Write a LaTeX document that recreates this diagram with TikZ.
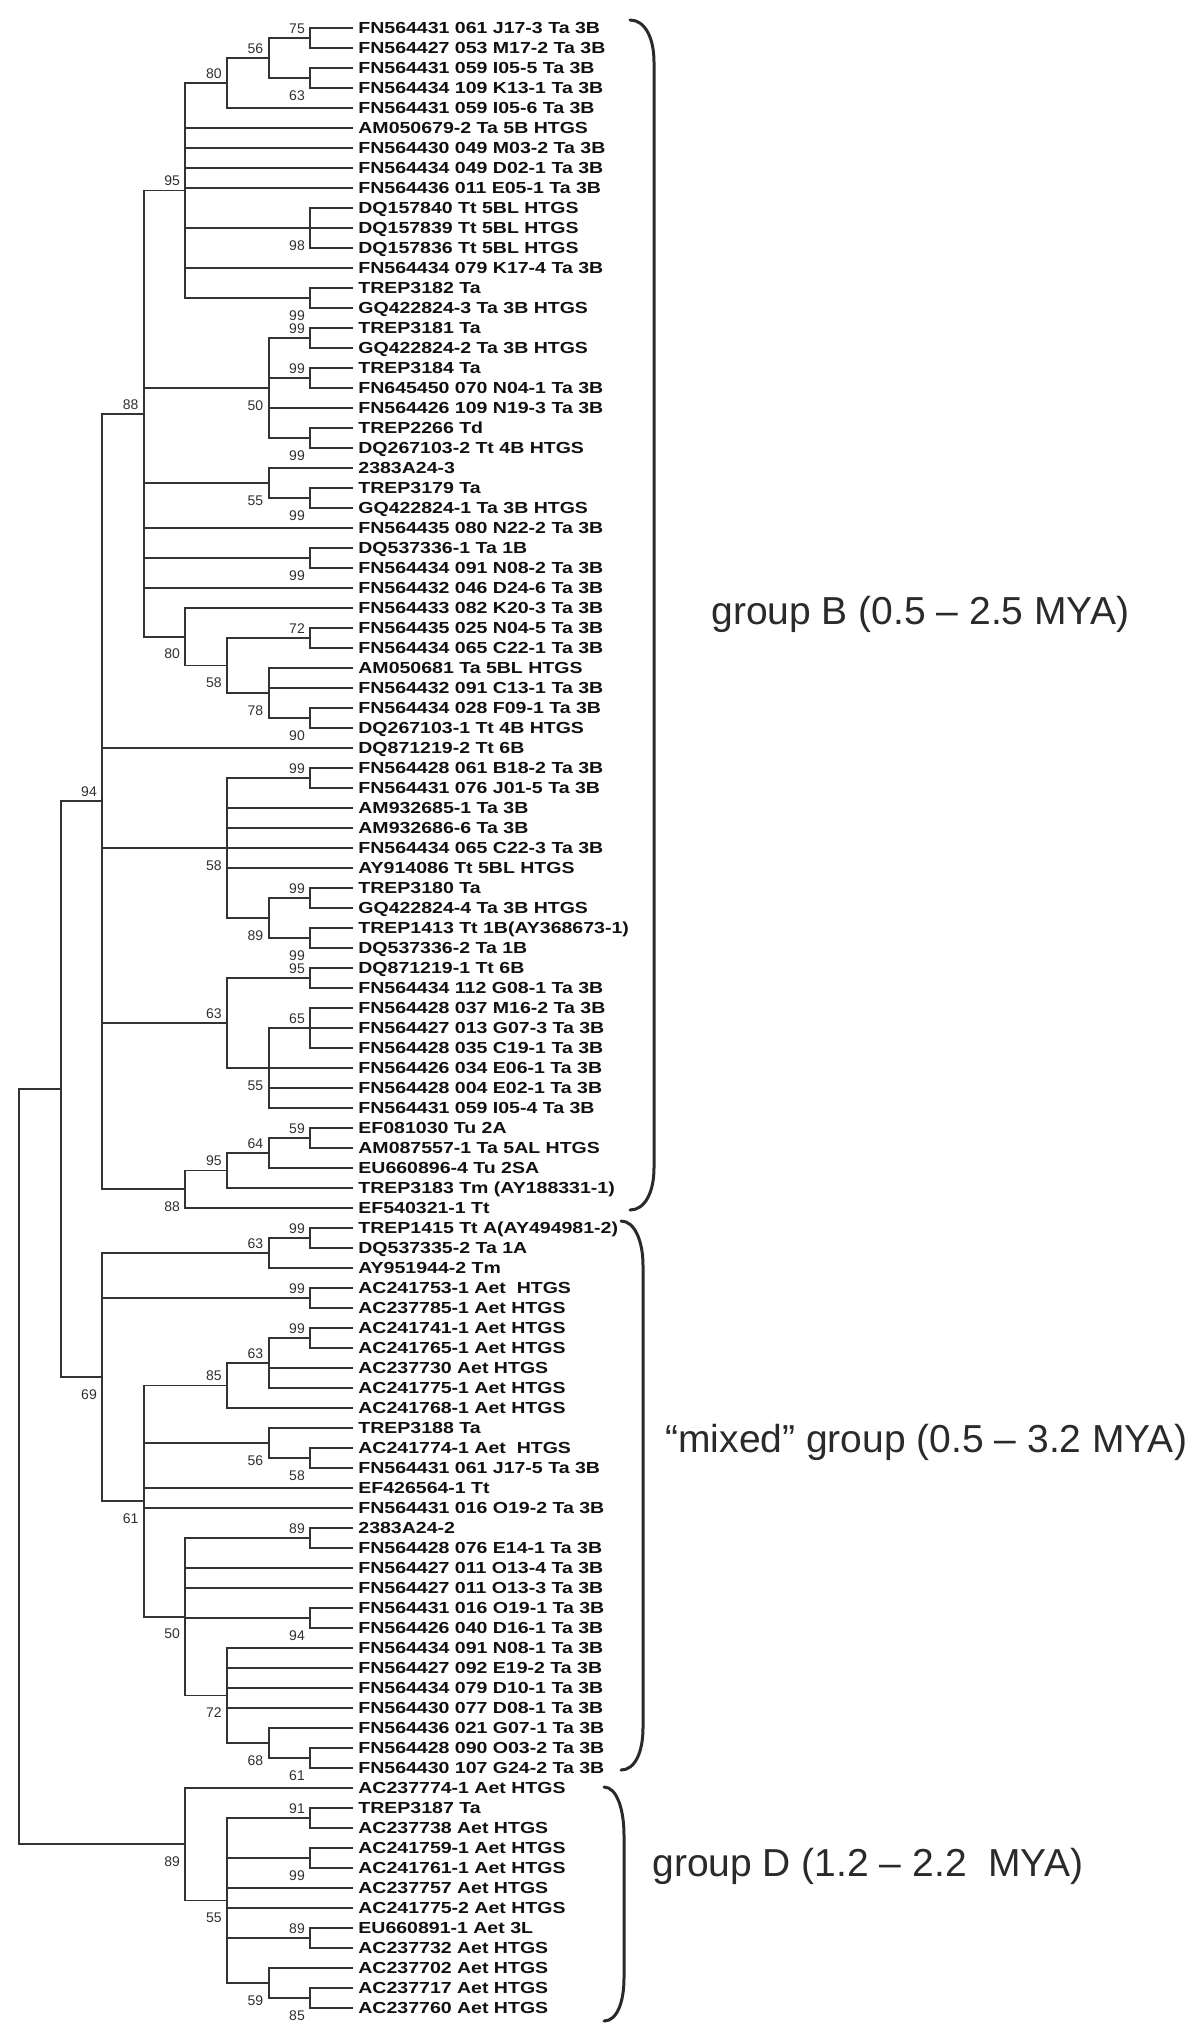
\documentclass[tikz,border=0pt]{standalone}
\usepackage{fontspec}
\setmainfont{Liberation Sans}
\newfontfamily\leaffont[FakeStretch=1.22]{Liberation Sans}
\definecolor{treeline}{HTML}{333333}
\definecolor{bstext}{HTML}{303030}
\definecolor{leaftext}{HTML}{111111}
\definecolor{grptext}{HTML}{2A2A2A}
\newcommand\treekids[2]{\foreach \c in {#2} {\draw[br] (#1) |- (\c);}}
\begin{document}
\begin{tikzpicture}[x=0.5pt,y=-0.5pt,
  br/.style={draw=treeline, line width=0.95pt, line cap=rect},
  leaf/.style={inner sep=0pt, anchor=base west, text=leaftext, font=\leaffont\bfseries\fontsize{8}{9}\selectfont},
  bsbase/.style={inner sep=0pt, text=bstext, font=\fontsize{7}{8}\selectfont},
  bsA/.style={bsbase, anchor=south east, xshift=-2.5pt, yshift=2pt},
  bsB/.style={bsbase, anchor=north east, xshift=-2.5pt, yshift=-6pt},
  grp/.style={inner sep=0pt, anchor=base west, text=grptext, font=\fontsize{19.5}{23}\selectfont},
  brk/.style={draw=grptext, line width=1.5pt, line cap=round}]
\fill[white] (0,0) rectangle (1200,2026);
\useasboundingbox (0,0) rectangle (1200,2026);

% leaves
\foreach \i/\t in {1/FN564431 061 J17-3 Ta 3B, 2/FN564427 053 M17-2 Ta 3B, 3/FN564431 059 I05-5 Ta 3B,
 4/FN564434 109 K13-1 Ta 3B, 5/FN564431 059 I05-6 Ta 3B, 6/AM050679-2 Ta 5B HTGS,
 7/FN564430 049 M03-2 Ta 3B, 8/FN564434 049 D02-1 Ta 3B, 9/FN564436 011 E05-1 Ta 3B,
 10/DQ157840 Tt 5BL HTGS, 11/DQ157839 Tt 5BL HTGS, 12/DQ157836 Tt 5BL HTGS,
 13/FN564434 079 K17-4 Ta 3B, 14/TREP3182 Ta, 15/GQ422824-3 Ta 3B HTGS,
 16/TREP3181 Ta, 17/GQ422824-2 Ta 3B HTGS, 18/TREP3184 Ta,
 19/FN645450 070 N04-1 Ta 3B, 20/FN564426 109 N19-3 Ta 3B, 21/TREP2266 Td,
 22/DQ267103-2 Tt 4B HTGS, 23/2383A24-3, 24/TREP3179 Ta,
 25/GQ422824-1 Ta 3B HTGS, 26/FN564435 080 N22-2 Ta 3B, 27/DQ537336-1 Ta 1B,
 28/FN564434 091 N08-2 Ta 3B, 29/FN564432 046 D24-6 Ta 3B, 30/FN564433 082 K20-3 Ta 3B,
 31/FN564435 025 N04-5 Ta 3B, 32/FN564434 065 C22-1 Ta 3B, 33/AM050681 Ta 5BL HTGS,
 34/FN564432 091 C13-1 Ta 3B, 35/FN564434 028 F09-1 Ta 3B, 36/DQ267103-1 Tt 4B HTGS,
 37/DQ871219-2 Tt 6B, 38/FN564428 061 B18-2 Ta 3B, 39/FN564431 076 J01-5 Ta 3B,
 40/AM932685-1 Ta 3B, 41/AM932686-6 Ta 3B, 42/FN564434 065 C22-3 Ta 3B,
 43/AY914086 Tt 5BL HTGS, 44/TREP3180 Ta, 45/GQ422824-4 Ta 3B HTGS,
 46/TREP1413 Tt 1B(AY368673-1), 47/DQ537336-2 Ta 1B, 48/DQ871219-1 Tt 6B,
 49/FN564434 112 G08-1 Ta 3B, 50/FN564428 037 M16-2 Ta 3B, 51/FN564427 013 G07-3 Ta 3B,
 52/FN564428 035 C19-1 Ta 3B, 53/FN564426 034 E06-1 Ta 3B, 54/FN564428 004 E02-1 Ta 3B,
 55/FN564431 059 I05-4 Ta 3B, 56/EF081030 Tu 2A, 57/AM087557-1 Ta 5AL HTGS,
 58/EU660896-4 Tu 2SA, 59/TREP3183 Tm (AY188331-1), 60/EF540321-1 Tt,
 61/TREP1415 Tt A(AY494981-2), 62/DQ537335-2 Ta 1A, 63/AY951944-2 Tm,
 64/AC241753-1 Aet\ \ HTGS, 65/AC237785-1 Aet HTGS, 66/AC241741-1 Aet HTGS,
 67/AC241765-1 Aet HTGS, 68/AC237730 Aet HTGS, 69/AC241775-1 Aet HTGS,
 70/AC241768-1 Aet HTGS, 71/TREP3188 Ta, 72/AC241774-1 Aet\ \ HTGS,
 73/FN564431 061 J17-5 Ta 3B, 74/EF426564-1 Tt, 75/FN564431 016 O19-2 Ta 3B,
 76/2383A24-2, 77/FN564428 076 E14-1 Ta 3B, 78/FN564427 011 O13-4 Ta 3B,
 79/FN564427 011 O13-3 Ta 3B, 80/FN564431 016 O19-1 Ta 3B, 81/FN564426 040 D16-1 Ta 3B,
 82/FN564434 091 N08-1 Ta 3B, 83/FN564427 092 E19-2 Ta 3B, 84/FN564434 079 D10-1 Ta 3B,
 85/FN564430 077 D08-1 Ta 3B, 86/FN564436 021 G07-1 Ta 3B, 87/FN564428 090 O03-2 Ta 3B,
 88/FN564430 107 G24-2 Ta 3B, 89/AC237774-1 Aet HTGS, 90/TREP3187 Ta,
 91/AC237738 Aet HTGS, 92/AC241759-1 Aet HTGS, 93/AC241761-1 Aet HTGS,
 94/AC237757 Aet HTGS, 95/AC241775-2 Aet HTGS, 96/EU660891-1 Aet 3L,
 97/AC237732 Aet HTGS, 98/AC237702 Aet HTGS, 99/AC237717 Aet HTGS,
 100/AC237760 Aet HTGS}
{
 \coordinate (t\i) at (351.8,{28+20*(\i-1)});
 \node[leaf] (l\i) at (358,{33.8+20*(\i-1)}) {\t};
}

% internal nodes (level x: 19, 60.6, 102.2, 143.8, 185.4, 227, 268.6, 310.2)
\coordinate (n75) at (310.2,38);
\coordinate (n63a) at (310.2,78);
\coordinate (n56a) at (268.6,58);
\coordinate (n80a) at (227,83);
\coordinate (n98) at (310.2,228);
\coordinate (n99a) at (310.2,298);
\coordinate (n95a) at (185.4,190.5);
\coordinate (n99b) at (310.2,338);
\coordinate (n99c) at (310.2,378);
\coordinate (n99d) at (310.2,438);
\coordinate (n50a) at (268.6,388);
\coordinate (n99e) at (310.2,498);
\coordinate (n55a) at (268.6,483);
\coordinate (n99f) at (310.2,558);
\coordinate (n72a) at (310.2,638);
\coordinate (n90) at (310.2,718);
\coordinate (n78) at (268.6,693);
\coordinate (n58a) at (227,665.5);
\coordinate (n80b) at (185.4,636.75);
\coordinate (n88a) at (143.8,413.6);
\coordinate (n99g) at (310.2,778);
\coordinate (n99h) at (310.2,898);
\coordinate (n99i) at (310.2,938);
\coordinate (n89a) at (268.6,918);
\coordinate (n58b) at (227,848);
\coordinate (n95b) at (310.2,978);
\coordinate (n65) at (310.2,1028);
\coordinate (n55b) at (268.6,1068);
\coordinate (n63b) at (227,1023);
\coordinate (n59a) at (310.2,1138);
\coordinate (n64) at (268.6,1153);
\coordinate (n95c) at (227,1170.5);
\coordinate (n88b) at (185.4,1189.25);
\coordinate (n94) at (102.2,801.4);
\coordinate (n99j) at (310.2,1238);
\coordinate (n63c) at (268.6,1253);
\coordinate (n99k) at (310.2,1298);
\coordinate (n99l) at (310.2,1338);
\coordinate (n63d) at (268.6,1363);
\coordinate (n85a) at (227,1385.5);
\coordinate (n58c) at (310.2,1458);
\coordinate (n56b) at (268.6,1443);
\coordinate (n89b) at (310.2,1538);
\coordinate (n94b) at (310.2,1618);
\coordinate (n61a) at (310.2,1758);
\coordinate (n68) at (268.6,1743);
\coordinate (n72b) at (227,1695.5);
\coordinate (n50b) at (185.4,1616.75);
\coordinate (n61b) at (143.8,1501.1);
\coordinate (n69) at (102.2,1377.05);
\coordinate (n91) at (310.2,1818);
\coordinate (n99m) at (310.2,1858);
\coordinate (n89d) at (310.2,1938);
\coordinate (n85b) at (310.2,1998);
\coordinate (n59b) at (268.6,1983);
\coordinate (n55c) at (227,1900.5);
\coordinate (n89c) at (185.4,1844.25);
\coordinate (nA) at (60.6,1089.2);
\coordinate (root) at (19,1466.7);

% branches
\treekids{n75}{t1,t2}
\treekids{n63a}{t3,t4}
\treekids{n56a}{n75,n63a}
\treekids{n80a}{n56a,t5}
\treekids{n98}{t10,t11,t12}
\treekids{n99a}{t14,t15}
\treekids{n95a}{n80a,t6,t7,t8,t9,n98,t13,n99a}
\treekids{n99b}{t16,t17}
\treekids{n99c}{t18,t19}
\treekids{n99d}{t21,t22}
\treekids{n50a}{n99b,n99c,t20,n99d}
\treekids{n99e}{t24,t25}
\treekids{n55a}{t23,n99e}
\treekids{n99f}{t27,t28}
\treekids{n72a}{t31,t32}
\treekids{n90}{t35,t36}
\treekids{n78}{t33,t34,n90}
\treekids{n58a}{n72a,n78}
\treekids{n80b}{t30,n58a}
\treekids{n88a}{n95a,n50a,n55a,t26,n99f,t29,n80b}
\treekids{n99g}{t38,t39}
\treekids{n99h}{t44,t45}
\treekids{n99i}{t46,t47}
\treekids{n89a}{n99h,n99i}
\treekids{n58b}{n99g,t40,t41,t42,t43,n89a}
\treekids{n95b}{t48,t49}
\treekids{n65}{t50,t51,t52}
\treekids{n55b}{n65,t53,t54,t55}
\treekids{n63b}{n95b,n55b}
\treekids{n59a}{t56,t57}
\treekids{n64}{n59a,t58}
\treekids{n95c}{n64,t59}
\treekids{n88b}{n95c,t60}
\treekids{n94}{n88a,t37,n58b,n63b,n88b}
\treekids{n99j}{t61,t62}
\treekids{n63c}{n99j,t63}
\treekids{n99k}{t64,t65}
\treekids{n99l}{t66,t67}
\treekids{n63d}{n99l,t68,t69}
\treekids{n85a}{n63d,t70}
\treekids{n58c}{t72,t73}
\treekids{n56b}{t71,n58c}
\treekids{n89b}{t76,t77}
\treekids{n94b}{t80,t81}
\treekids{n61a}{t87,t88}
\treekids{n68}{t86,n61a}
\treekids{n72b}{t82,t83,t84,t85,n68}
\treekids{n50b}{n89b,t78,t79,n94b,n72b}
\treekids{n61b}{n85a,n56b,t74,t75,n50b}
\treekids{n69}{n63c,n99k,n61b}
\treekids{n91}{t90,t91}
\treekids{n99m}{t92,t93}
\treekids{n89d}{t96,t97}
\treekids{n85b}{t99,t100}
\treekids{n59b}{t98,n85b}
\treekids{n55c}{n91,n99m,t94,t95,n89d,n59b}
\treekids{n89c}{t89,n55c}
\treekids{nA}{n94,n69}
\treekids{root}{nA,n89c}

% bootstrap values
\foreach \n/\v in {n75/75, n56a/56, n80a/80, n95a/95, n99b/99, n99c/99, n72a/72, n88a/88,
  n99g/99, n99h/99, n95b/95, n65/65, n63b/63, n59a/59, n64/64, n95c/95, n94/94,
  n99j/99, n63c/63, n99k/99, n99l/99, n63d/63, n85a/85, n89b/89, n91/91, n89d/89}
  {\node[bsA] (b\n) at (\n) {\v};}
\foreach \n/\v in {n63a/63, n98/98, n99a/99, n99d/99, n50a/50, n99e/99, n55a/55, n99f/99,
  n90/90, n78/78, n58a/58, n80b/80, n99i/99, n89a/89, n58b/58, n55b/55, n88b/88,
  n58c/58, n56b/56, n94b/94, n61a/61, n68/68, n72b/72, n50b/50, n61b/61, n69/69,
  n99m/99, n85b/85, n59b/59, n55c/55, n89c/89}
  {\node[bsB] (b\n) at (\n) {\v};}

% brackets
\coordinate (bBt) at (630,20);
\coordinate (bBb) at (630,1210);
\coordinate (bMt) at (621,1221);
\coordinate (bMb) at (621,1770);
\coordinate (bDt) at (604,1787);
\coordinate (bDb) at (604,2021);
\draw[brk] (bBt) .. controls (645,20) and (654,38) .. (654,62) -- (654,1168)
  .. controls (654,1192) and (645,1210) .. (bBb);
\draw[brk] (bMt) .. controls (635,1221) and (643,1242) .. (643,1265) -- (643,1728)
  .. controls (643,1752) and (635,1770) .. (bMb);
\draw[brk] (bDt) .. controls (617,1787) and (624,1810) .. (624,1835) -- (624,1978)
  .. controls (624,2002) and (617,2021) .. (bDb);

% group labels
\node[grp] (gB) at (711,624) {group B (0.5 – 2.5 MYA)};
\node[grp] (gM) at (665,1452) {“mixed” group (0.5 – 3.2 MYA)};
\node[grp] (gD) at (652,1876) {group D (1.2 – 2.2\ \ MYA)};
\end{tikzpicture}
\end{document}
